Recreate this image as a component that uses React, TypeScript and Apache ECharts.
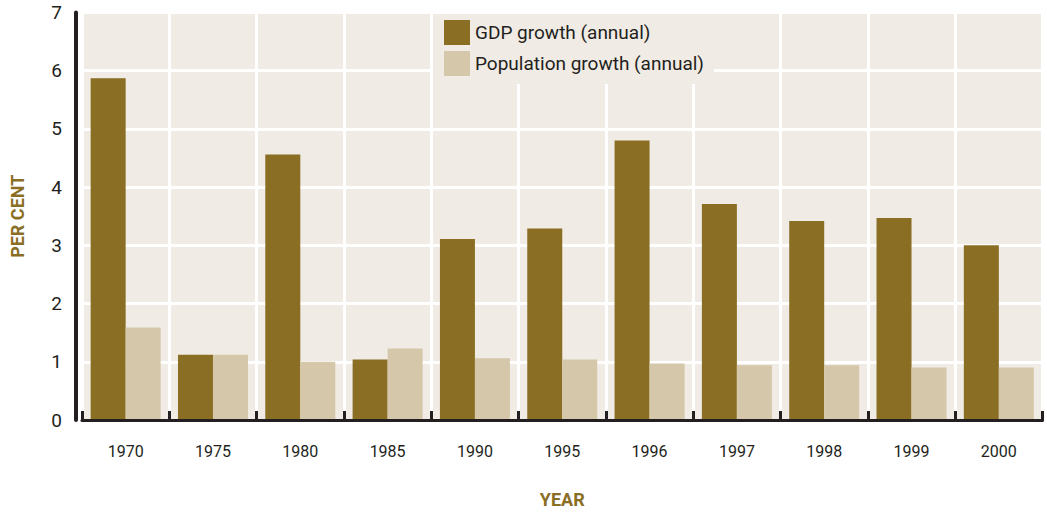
import React, { useEffect, useRef } from "react";
import * as echarts from "echarts";

const years = ["1970", "1975", "1980", "1985", "1990", "1995", "1996", "1997", "1998", "1999", "2000"];
const gdpGrowth = [5.87, 1.12, 4.56, 1.04, 3.11, 3.29, 4.8, 3.71, 3.42, 3.47, 3.0];
const popGrowth = [1.59, 1.12, 1.0, 1.23, 1.06, 1.04, 0.97, 0.94, 0.94, 0.9, 0.9];
const yTicks = [0, 1, 2, 3, 4, 5, 6, 7];

const GOLD = "#8a6e23";
const SAND = "#d5c7a9";
const BG = "#f0ebe4";
const INK = "#231f20";
const FONT = "Roboto, 'Noto Sans', sans-serif";

export default function App() {
  const ref = useRef<HTMLDivElement>(null);
  useEffect(() => {
    if (!ref.current) return;
    const chart = echarts.init(ref.current, undefined, { renderer: "svg" });
    chart.setOption({
      animation: false,
      textStyle: { fontFamily: FONT },
      grid: {
        left: 80,
        right: 4.5,
        top: 12.5,
        height: 408,
        show: true,
        backgroundColor: BG,
        borderWidth: 0,
      },
      legend: {
        orient: "vertical",
        left: 433,
        top: 14,
        z: 20,
        padding: [6, 10, 8, 11],
        backgroundColor: BG,
        itemWidth: 26,
        itemHeight: 25,
        itemGap: 6,
        icon: "rect",
        textStyle: { fontSize: 19, color: INK, fontFamily: FONT },
        data: ["GDP growth (annual)", "Population growth (annual)"],
      },
      xAxis: {
        type: "category",
        data: years,
        boundaryGap: true,
        name: "YEAR",
        nameLocation: "middle",
        nameGap: 70,
        nameTextStyle: { fontSize: 18, fontWeight: "bold", color: GOLD, fontFamily: FONT },
        axisLine: { show: true, lineStyle: { color: INK, width: 3 } },
        axisTick: { show: true, inside: true, length: 9, lineStyle: { color: INK, width: 3 } },
        axisLabel: { fontSize: 16, color: INK, margin: 23 },
        splitLine: { show: true, lineStyle: { color: "#ffffff", width: 3 } },
        z: 5,
      },
      yAxis: {
        type: "value",
        min: yTicks[0],
        max: yTicks[yTicks.length - 1],
        interval: 1,
        offset: 6,
        name: "PER CENT",
        nameLocation: "middle",
        nameGap: 50,
        nameRotate: 90,
        nameTextStyle: { fontSize: 18, fontWeight: "bold", color: GOLD, fontFamily: FONT },
        axisLine: { show: true, lineStyle: { color: INK, width: 4 } },
        axisTick: { show: false },
        axisLabel: { fontSize: 19, color: INK, margin: 14 },
        splitLine: { show: true, lineStyle: { color: "#ffffff", width: 3 } },
      },
      series: [
        {
          name: "GDP growth (annual)",
          type: "bar",
          data: gdpGrowth,
          barWidth: 35,
          barGap: "0%",
          itemStyle: { color: GOLD },
        },
        {
          name: "Population growth (annual)",
          type: "bar",
          data: popGrowth,
          barWidth: 35,
          barGap: "0%",
          itemStyle: { color: SAND },
        },
      ],
    });
    return () => chart.dispose();
  }, []);
  return <div ref={ref} style={{ width: 1047, height: 513, position: "absolute", left: 0, top: 0 }} />;
}
